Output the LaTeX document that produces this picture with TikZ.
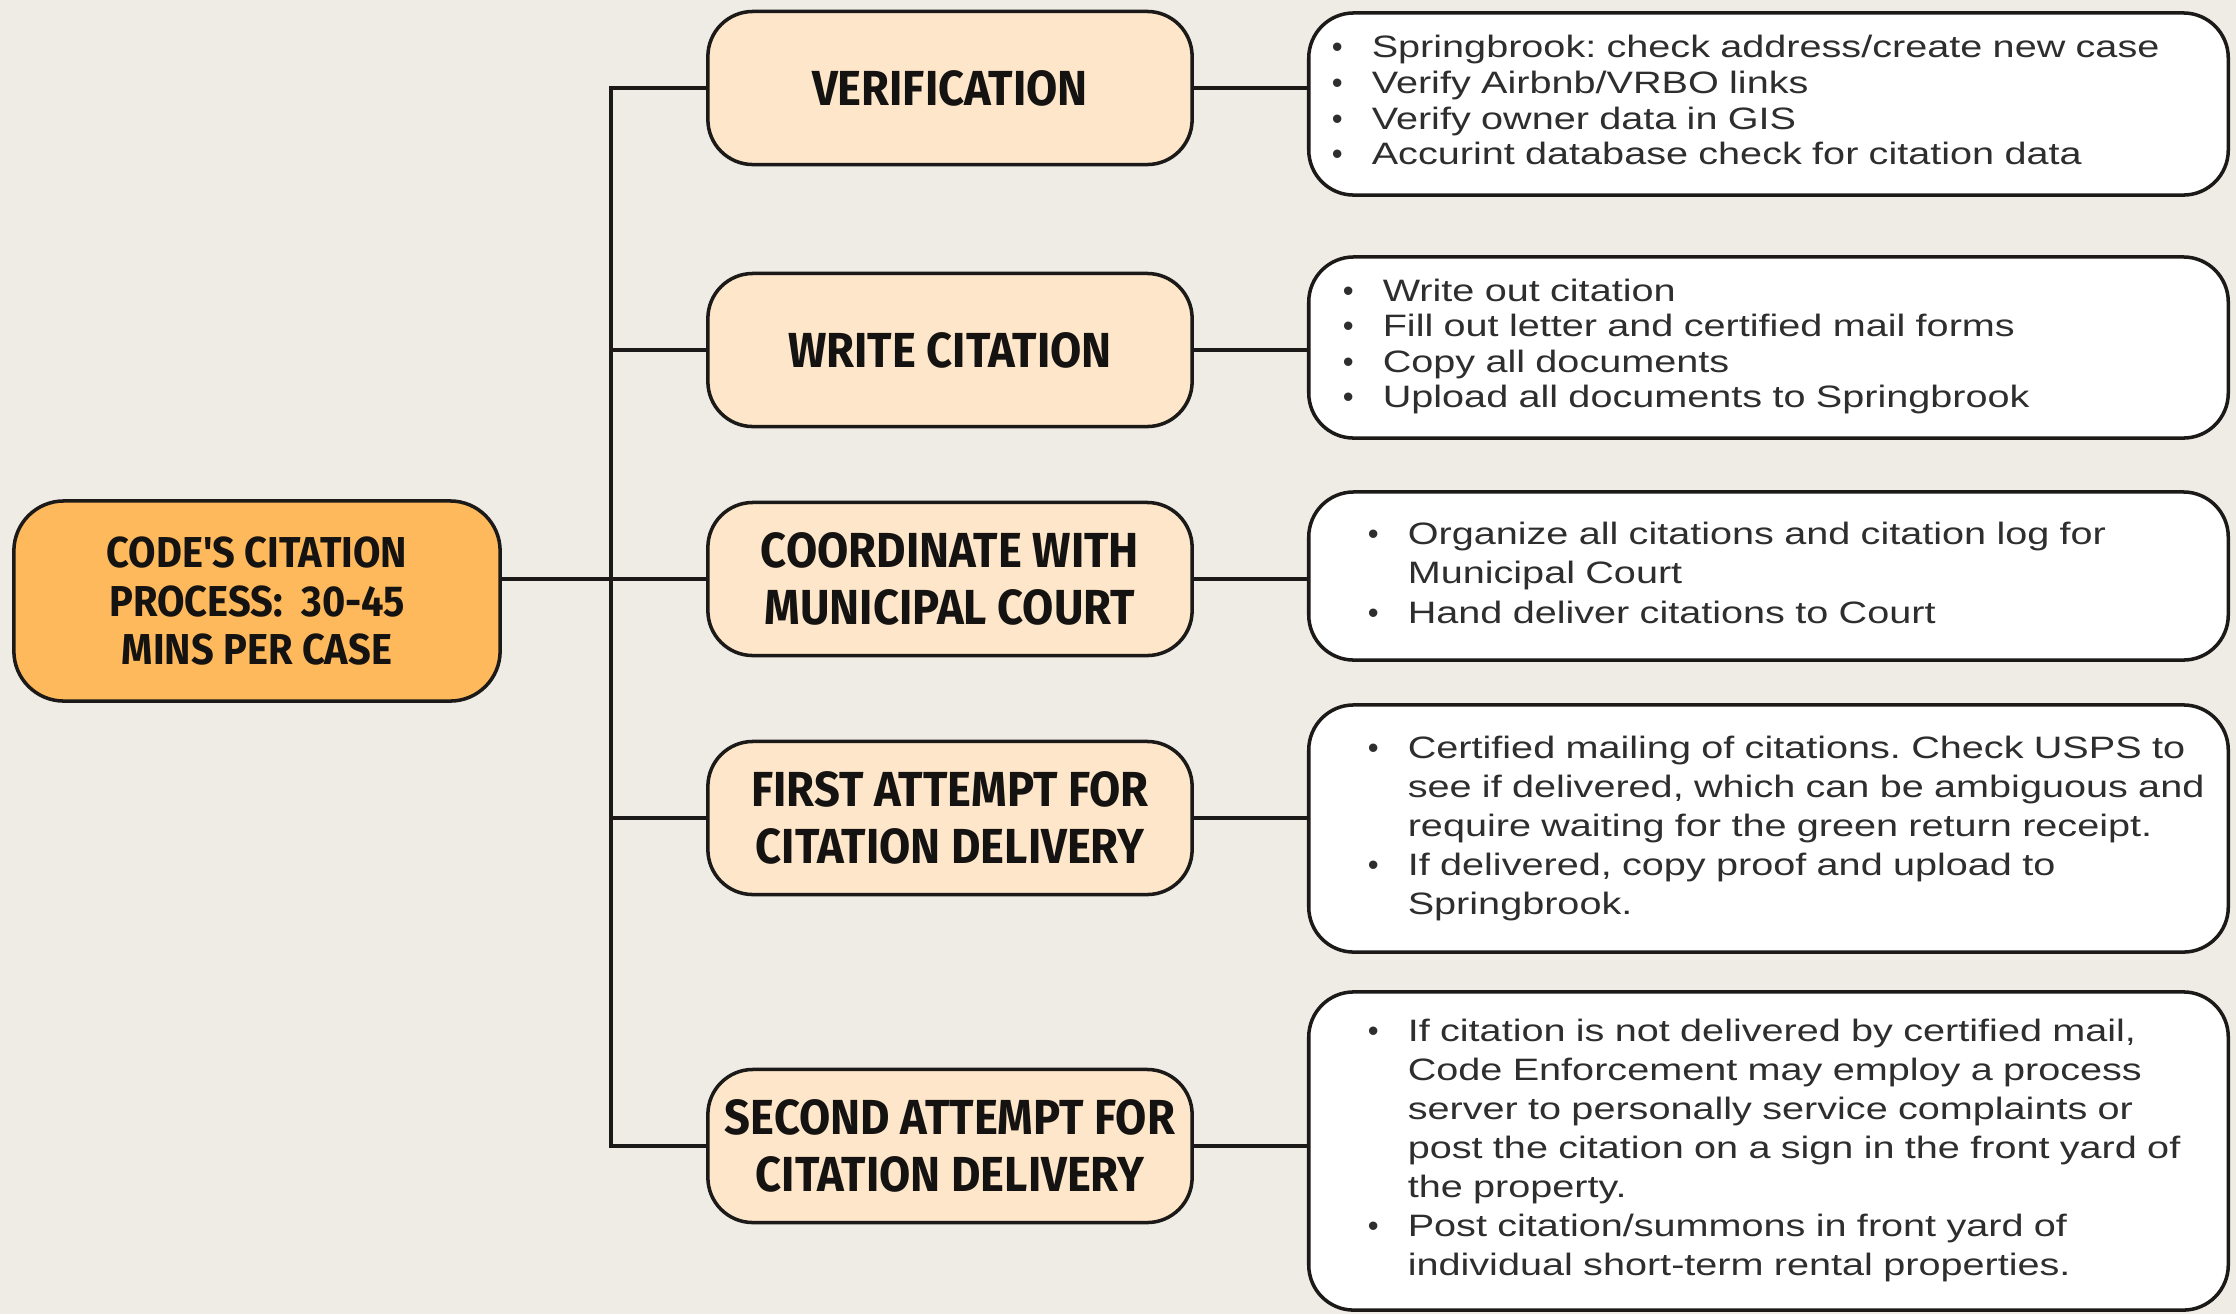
\documentclass[tikz,border=0pt]{standalone}
\usepackage{fontspec}
\usepackage{tikz}
\usetikzlibrary{calc}
\newfontfamily\headfont[FakeStretch=0.92]{Fira Sans}
\newfontfamily\notefont[FakeStretch=1.28]{Liberation Sans}
\newfontfamily\bulfont{Liberation Sans}
\definecolor{paper}{HTML}{EFECE6}
\definecolor{rootfill}{HTML}{FDB95B}
\definecolor{stepfill}{HTML}{FDE6C9}
\definecolor{edge}{HTML}{1C1A18}
\definecolor{ink}{HTML}{151311}
\definecolor{notegray}{HTML}{2E2E2E}
\newcommand{\bul}{\makebox[0.4cm][l]{\bulfont\textbullet}}
\frenchspacing

\begin{document}
\begin{tikzpicture}[x=0.01cm, y=-0.01cm,
  rootbox/.style={draw=edge, fill=rootfill, line width=1pt, rounded corners=0.5cm, minimum width=4.86cm, minimum height=2cm, align=center, text=ink, font=\headfont\bfseries\fontsize{12.3}{13.9}\selectfont},
  stepbox/.style={draw=edge, fill=stepfill, line width=1pt, rounded corners=0.45cm, minimum width=4.84cm, minimum height=1.53cm, align=center, text=ink, font=\headfont\bfseries\fontsize{14}{16.2}\selectfont},
  notebox/.style={draw=edge, fill=white, line width=1pt, rounded corners=0.45cm, minimum width=9.19cm, align=left, text=notegray, font=\notefont\fontsize{8.8}{#1}\selectfont},
  wire/.style={draw=edge, line width=0.9pt}]
  \useasboundingbox (0,0) rectangle (2236,1314);
  \fill[paper] (0,0) rectangle (2236,1314);

  % Root of the process
  \node[rootbox] (root) at (257,601) {CODE'S CITATION\\PROCESS:\ \ 30-45\\MINS PER CASE};

  % Steps
  \node[stepbox] (mid1) at (950,88) {VERIFICATION};
  \node[stepbox] (mid2) at (950,350) {WRITE CITATION};
  \node[stepbox] (mid3) at (950,579) {COORDINATE WITH\\MUNICIPAL COURT};
  \node[stepbox] (mid4) at (950,818) {FIRST ATTEMPT FOR\\CITATION DELIVERY};
  \node[stepbox] (mid5) at (950,1146) {SECOND ATTEMPT FOR\\CITATION DELIVERY};

  % Details for each step
  \node[notebox=10.2, inner xsep=0.23cm, text width=8.73cm, minimum height=1.82cm] (det1) at (1768.5,104)
    {\rlap{\raisebox{0.1cm}{\begin{tabular}{@{}l@{}l@{}}
      \bul & Springbrook: check address/create new case\\
      \bul & Verify Airbnb/VRBO links\\
      \bul & Verify owner data in GIS\\
      \bul & Accurint database check for citation data
    \end{tabular}}}};
  \node[notebox=10.0, inner xsep=0.34cm, text width=8.51cm, minimum height=1.81cm] (det2) at (1768.5,347.5)
    {\rlap{\begin{tabular}{@{}l@{}l@{}}
      \bul & Write out citation\\
      \bul & Fill out letter and certified mail forms\\
      \bul & Copy all documents\\
      \bul & Upload all documents to Springbrook
    \end{tabular}}};
  \node[notebox=11.3, inner xsep=0.59cm, text width=8.01cm, minimum height=1.68cm] (det3) at (1768.5,576)
    {\rlap{\begin{tabular}{@{}l@{}l@{}}
      \bul & Organize all citations and citation log for\\
           & Municipal Court\\
      \bul & Hand deliver citations to Court
    \end{tabular}}};
  \node[notebox=11.1, inner xsep=0.59cm, text width=8.01cm, minimum height=2.47cm] (det4) at (1768.5,828.5)
    {\rlap{\begin{tabular}{@{}l@{}l@{}}
      \bul & Certified mailing of citations. Check USPS to\\
           & see if delivered, which can be ambiguous and\\
           & require waiting for the green return receipt.\\
      \bul & If delivered, copy proof and upload to\\
           & Springbrook.
    \end{tabular}}};
  \node[notebox=11.1, inner xsep=0.59cm, text width=8.01cm, minimum height=3.18cm] (det5) at (1768.5,1151)
    {\rlap{\begin{tabular}{@{}l@{}l@{}}
      \bul & If citation is not delivered by certified mail,\\
           & Code Enforcement may employ a process\\
           & server to personally service complaints or\\
           & post the citation on a sign in the front yard of\\
           & the property.\\
      \bul & Post citation/summons in front yard of\\
           & individual short-term rental properties.
    \end{tabular}}};

  % Connectors
  \coordinate (trunk) at (611,0);
  \draw[wire] (root.east |- mid3.west) -- (mid3.west);
  \draw[wire] (mid1.west) -- (trunk |- mid1.west) -- (trunk |- mid5.west) -- (mid5.west);
  \foreach \i in {2,3,4}
    \draw[wire] (trunk |- mid\i.west) -- (mid\i.west);
  \foreach \i in {1,...,5}
    \draw[wire] (mid\i.east) -- (det\i.west |- mid\i.east);
\end{tikzpicture}
\end{document}
